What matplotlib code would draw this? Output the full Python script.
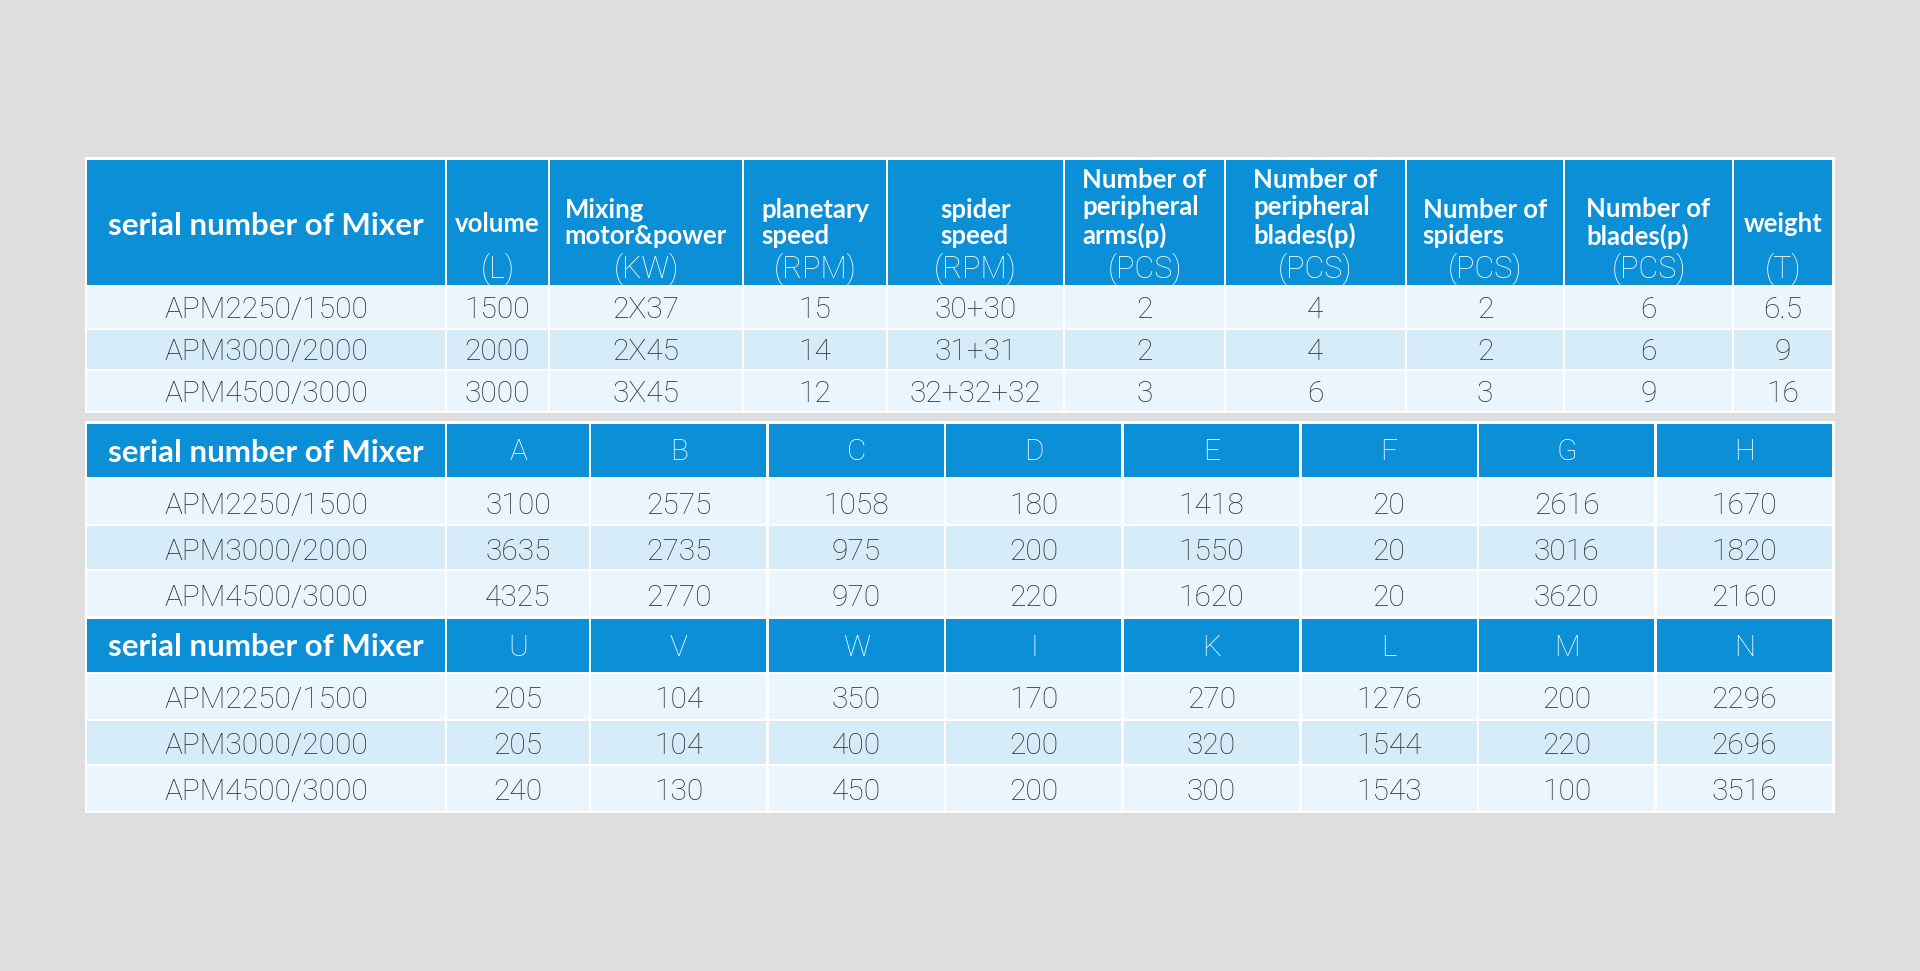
import matplotlib
matplotlib.use("Agg")
import matplotlib.pyplot as plt
from matplotlib.patches import Rectangle
import numpy as np

# ---- data -------------------------------------------------------------
models = ["APM2250/1500", "APM3000/2000", "APM4500/3000"]

spec_titles = ["volume", "Mixing\nmotor&power", "planetary\nspeed", "spider\nspeed",
               "Number of\nperipheral\narms(p)", "Number of\nperipheral\nblades(p)",
               "Number of\nspiders", "Number of\nblades(p)", "weight"]
spec_units = ["(L)", "(KW)", "(RPM)", "(RPM)", "(PCS)", "(PCS)", "(PCS)", "(PCS)", "(T)"]

volume_l = ["1500", "2000", "3000"]
motor_kw = ["2X37", "2X45", "3X45"]
planetary_rpm = ["15", "14", "12"]
spider_rpm = ["30+30", "31+31", "32+32+32"]
peripheral_arms = ["2", "2", "3"]
peripheral_blades = ["4", "4", "6"]
spider_count = ["2", "2", "3"]
blade_count = ["6", "6", "9"]
weight_t = ["6.5", "9", "16"]

dim_labels_1 = ["A", "B", "C", "D", "E", "F", "G", "H"]
dims_1 = [[3100, 2575, 1058, 180, 1418, 20, 2616, 1670],
          [3635, 2735, 975, 200, 1550, 20, 3016, 1820],
          [4325, 2770, 970, 220, 1620, 20, 3620, 2160]]

dim_labels_2 = ["U", "V", "W", "I", "K", "L", "M", "N"]
dims_2 = [[205, 104, 350, 170, 270, 1276, 200, 2296],
          [205, 104, 400, 200, 320, 1544, 220, 2696],
          [240, 130, 450, 200, 300, 1543, 100, 3516]]

FIRST_HEADER = "serial number of Mixer"

# ---- style ------------------------------------------------------------
BG = "#dedede"
BLUE = "#0b8fd7"
ROW_LIGHT = "#eaf5fd"
ROW_ALT = "#d6ecf9"
INK = "#2e2e2e"
GAP = 1.3  # half width of white grid line

BOLD = dict(family=["Lato", "DejaVu Sans"], weight="bold", color="white")
LIGHT = dict(family=["Roboto", "DejaVu Sans"], weight="light")

fig = plt.figure(figsize=(19.2, 9.71), dpi=100, facecolor=BG)
ax = fig.add_axes([0, 0, 1, 1])
ax.set_xlim(0, 1920)
ax.set_ylim(971, 0)
ax.axis("off")

X0, X1 = 86, 1833


def cell(x0, x1, y0, y1, color):
    ax.add_patch(Rectangle((x0 + GAP, y0 + GAP), x1 - x0 - 2 * GAP, y1 - y0 - 2 * GAP,
                           facecolor=color, edgecolor="none", zorder=2))


def frame(y0, y1):
    ax.add_patch(Rectangle((X0 - 1.5, y0 - 1.5), X1 - X0 + 3, y1 - y0 + 3,
                           facecolor="white", edgecolor="none", zorder=1))


def body_rows(edges, row_tops, columns, dy):
    for r in range(len(models)):
        y0, y1 = row_tops[r], row_tops[r + 1]
        color = ROW_ALT if r == 1 else ROW_LIGHT
        yc = (y0 + y1) / 2 + dy
        for c in range(len(edges) - 1):
            cell(edges[c], edges[c + 1], y0, y1, color)
            txt = models[r] if c == 0 else str(columns[c - 1][r])
            ax.text((edges[c] + edges[c + 1]) / 2, yc, txt, ha="center", va="center",
                    fontsize=21.5, color=INK, zorder=3, **LIGHT)


# ---- table 1: specifications -----------------------------------------
widths_1 = [360, 103, 194, 144, 177, 161, 181, 158, 169, 100]
edges_1 = X0 + np.concatenate([[0], np.cumsum(widths_1)])
edges_1[-1] = X1
h_top, h_bot = 159, 286
rows_1 = [286, 329, 370, 412]
frame(h_top, rows_1[-1])

cell(edges_1[0], edges_1[1], h_top, h_bot, BLUE)
ax.text((edges_1[0] + edges_1[1]) / 2, 226, FIRST_HEADER, ha="center", va="center",
        fontsize=22.5, zorder=3, **BOLD)
for c, (title, unit) in enumerate(zip(spec_titles, spec_units), start=1):
    xa, xb = edges_1[c], edges_1[c + 1]
    cell(xa, xb, h_top, h_bot, BLUE)
    n = title.count("\n") + 1
    yc = 224 if n == 1 else 238 - (n - 1) * 30 / 2
    ax.text((xa + xb) / 2, yc, title, ha="center", va="center", multialignment="left",
            fontsize=18.5, linespacing=1.15, zorder=3, **BOLD)
    ax.text((xa + xb) / 2, 269, unit, ha="center", va="center", color="white",
            fontsize=22, zorder=3, **LIGHT)

spec_columns = [volume_l, motor_kw, planetary_rpm, spider_rpm, peripheral_arms,
                peripheral_blades, spider_count, blade_count, weight_t]
body_rows(edges_1, rows_1, spec_columns, 3)

# ---- tables 2 and 3: dimensions ---------------------------------------
edges_2 = np.concatenate([[X0, 446], np.linspace(590, X1, 8)])
edges_2 = np.concatenate([[X0], np.linspace(446, X1, 10)[:1], np.linspace(590, X1, 8)])
frame(423, 812)

for labels, dims, top in [(dim_labels_1, dims_1, 423), (dim_labels_2, dims_2, 618)]:
    hb = top + 55
    cell(edges_2[0], edges_2[1], top, hb, BLUE)
    ax.text((edges_2[0] + edges_2[1]) / 2, (top + hb) / 2 + 2, FIRST_HEADER, ha="center",
            va="center", fontsize=22.5, zorder=3, **BOLD)
    for c, lab in enumerate(labels, start=1):
        cell(edges_2[c], edges_2[c + 1], top, hb, BLUE)
        ax.text((edges_2[c] + edges_2[c + 1]) / 2, (top + hb) / 2 + 2, lab, ha="center",
                va="center", color="white", fontsize=21.5, zorder=3, **LIGHT)
    rows = [hb, hb + 47, hb + 92, hb + 139]
    columns = [[dims[r][c] for r in range(3)] for c in range(8)]
    body_rows(edges_2, rows, columns, 4)

fig.savefig("out.png", dpi=100, facecolor=BG)
